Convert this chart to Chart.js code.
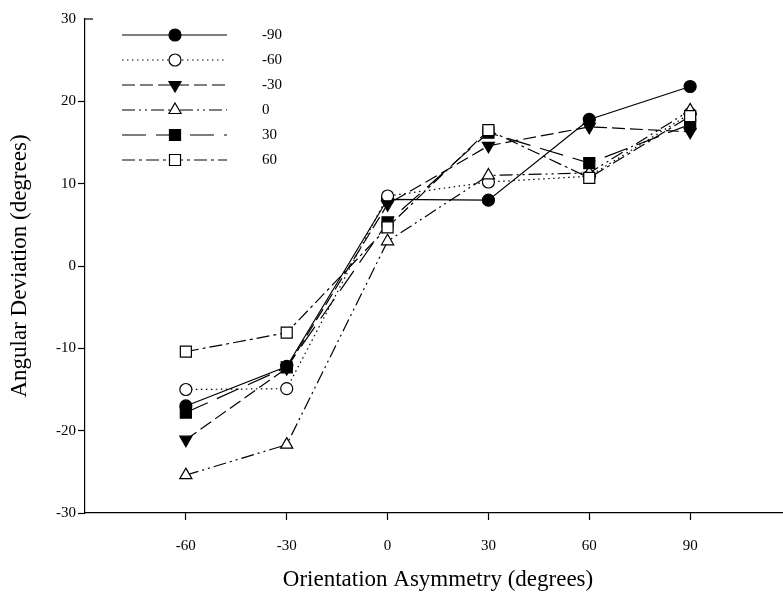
<!DOCTYPE html>
<html>
<head>
<meta charset="utf-8">
<script src="https://cdn.jsdelivr.net/npm/chart.js@4"></script>
<style>
  html, body { margin: 0; padding: 0; background: #fff; overflow: hidden; }
  #wrap { width: 800px; height: 601px; }
</style>
</head>
<body>
<div id="wrap"><canvas id="chartDev" width="800" height="601"></canvas></div>
<script>
// Angular deviation vs orientation asymmetry, one line per series

const xValues = [-60, -30, 0, 30, 60, 90];
const xTicks = [-60, -30, 0, 30, 60, 90];
const yTicks = [-30, -20, -10, 0, 10, 20, 30];
const seriesNames = ['-90', '-60', '-30', '0', '30', '60'];

const devM90 = [-17.0, -12.2, 8.1, 8.0, 17.8, 21.8];
const devM60 = [-15.0, -14.9, 8.5, 10.2, 10.9, 18.5];
const devM30 = [-21.1, -12.4, 7.5, 14.6, 16.9, 16.3];
const dev0   = [-25.4, -21.7, 3.0, 11.0, 11.3, 18.9];
const dev30  = [-17.8, -12.3, 5.3, 16.2, 12.5, 17.2];
const dev60  = [-10.4, -8.1, 4.7, 16.5, 10.7, 18.2];

const seriesValues = [devM90, devM60, devM30, dev0, dev30, dev60];

// line + marker look for each series (same order as seriesNames)
const styles = [
    { dash: [],                   point: 'circle',   fill: '#000', radius: 6,   rot: 0 },
    { dash: [1.5, 3.5],           point: 'circle',   fill: '#fff', radius: 6,   rot: 0 },
    { dash: [13, 5],              point: 'triangle', fill: '#000', radius: 7,   rot: 180 },
    { dash: [13, 4, 2, 4, 2, 4],  point: 'triangle', fill: '#fff', radius: 7,   rot: 0 },
    { dash: [24, 10],             point: 'rect',     fill: '#000', radius: 7.8, rot: 0 },
    { dash: [13, 4, 3, 4],        point: 'rect',     fill: '#fff', radius: 7.8, rot: 0 },
];

const serif = '"Liberation Serif", "Times New Roman", serif';

const legendPlugin = {
    id: 'boxLegend',
    afterDraw(chart) {
        const ctx = chart.ctx;
        ctx.save();
        styles.forEach((s, i) => {
            const y = 35 + i * 25;
            ctx.strokeStyle = '#000';
            ctx.lineWidth = 1.2;
            ctx.setLineDash(s.dash);
            ctx.beginPath();
            ctx.moveTo(122, y);
            ctx.lineTo(227, y);
            ctx.stroke();
            ctx.setLineDash([]);
            ctx.fillStyle = s.fill;
            Chart.helpers.drawPoint(ctx, { pointStyle: s.point, radius: s.radius, rotation: s.rot, borderWidth: 1.2 }, 175, y);
            ctx.fillStyle = '#000';
            ctx.font = '15px ' + serif;
            ctx.textBaseline = 'middle';
            ctx.textAlign = 'left';
            ctx.fillText(seriesNames[i], 262, y);
        });
        // short inward tick at the top of the y axis
        const ys = chart.scales.y;
        const top = ys.getPixelForValue(30);
        ctx.lineWidth = 1.2;
        ctx.beginPath();
        ctx.moveTo(chart.chartArea.left, top);
        ctx.lineTo(chart.chartArea.left + 8, top);
        ctx.stroke();
        ctx.restore();
    }
};

new Chart(document.getElementById('chartDev'), {
    type: 'line',
    data: {
        datasets: seriesValues.map((vals, i) => ({
            label: seriesNames[i],
            data: xValues.map((x, j) => ({ x: x, y: vals[j] })),
            borderColor: '#000',
            borderWidth: 1.2,
            borderDash: styles[i].dash,
            pointStyle: styles[i].point,
            pointRotation: styles[i].rot,
            pointRadius: styles[i].radius,
            pointBackgroundColor: styles[i].fill,
            pointBorderColor: '#000',
            pointBorderWidth: 1.2,
            tension: 0,
            fill: false,
            order: seriesValues.length - i,
        }))
    },
    options: {
        responsive: false,
        animation: false,
        devicePixelRatio: 1,
        layout: { padding: { top: 19, right: 9, left: 0, bottom: 0 } },
        plugins: { legend: { display: false }, tooltip: { enabled: false } },
        scales: {
            x: {
                type: 'linear',
                min: -90, max: 120,
                afterBuildTicks: axis => { axis.ticks = xTicks.map(v => ({ value: v })); },
                afterFit: axis => { axis.height = 88; },
                ticks: { color: '#000', padding: 17, font: { family: serif, size: 15 } },
                grid: { drawOnChartArea: false, tickLength: 7, tickColor: '#000', tickWidth: 1.2 },
                border: { color: '#000', width: 1.2 },
                title: {
                    display: true, text: 'Orientation Asymmetry (degrees)', color: '#000',
                    font: { family: serif, size: 23 }, padding: { top: 0, bottom: 7 }
                }
            },
            y: {
                min: -30, max: 30,
                afterBuildTicks: axis => { axis.ticks = yTicks.map(v => ({ value: v })); },
                afterFit: axis => { axis.width = 85; },
                ticks: { color: '#000', padding: 2, font: { family: serif, size: 15 } },
                grid: {
                    drawOnChartArea: false, tickLength: 7, tickWidth: 1.2,
                    tickColor: c => (c.tick && c.tick.value === 30 ? 'rgba(0,0,0,0)' : '#000')
                },
                border: { color: '#000', width: 1.2 },
                title: {
                    display: true, text: 'Angular Deviation (degrees)', color: '#000',
                    font: { family: serif, size: 23 }, padding: { top: 6, bottom: 0 }
                }
            }
        }
    },
    plugins: [legendPlugin]
});
</script>
</body>
</html>
